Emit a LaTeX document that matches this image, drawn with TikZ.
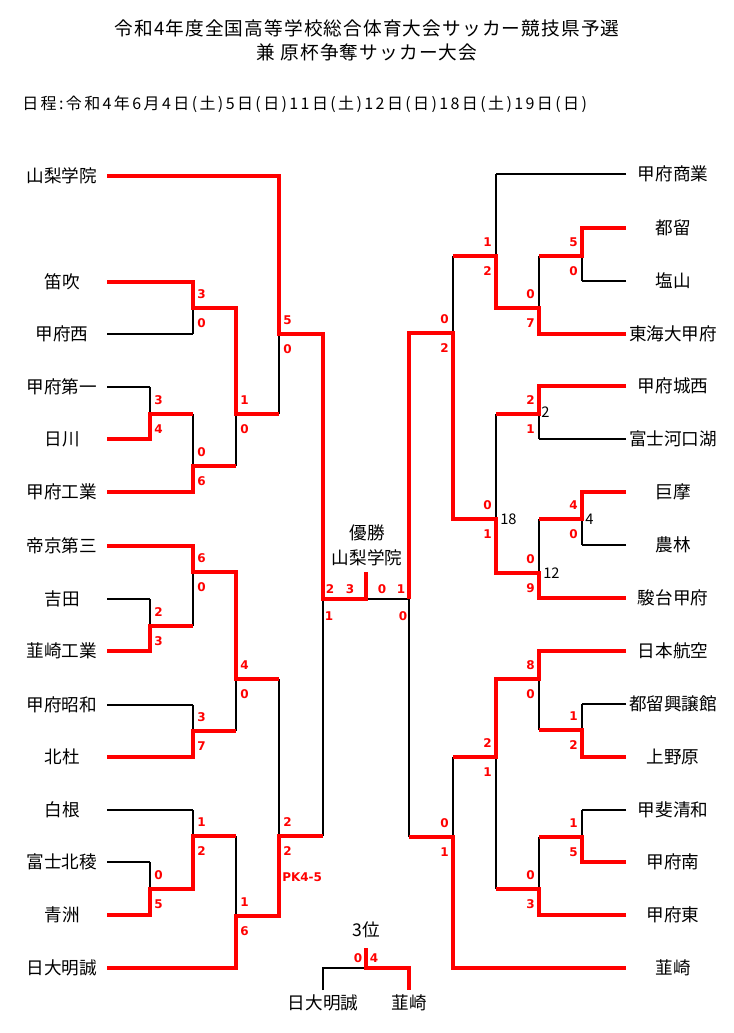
\documentclass[tikz,border=0pt]{standalone}
\usepackage{fontspec}
\newfontfamily\jp{Noto Sans CJK JP}
\newfontfamily\jpt[LetterSpace=6]{Noto Sans CJK JP}
\newfontfamily\jps[LetterSpace=15]{Noto Sans CJK JP}
\newfontfamily\scf{DejaVu Sans}
\begin{document}
\begin{tikzpicture}[x=0.75pt,y=-0.75pt,
  blk/.style={draw=black,line width=1.2pt},
  rd/.style={draw=red,line width=3pt,line join=miter},
  team/.style={font=\jp\fontsize{13.2}{15}\selectfont,inner sep=0pt},
  sc/.style={font=\scf\bfseries\fontsize{9}{10}\selectfont,text=red,inner sep=0pt},
  bn/.style={font=\jp\fontsize{11}{12}\selectfont,inner sep=0pt,anchor=west}]
\useasboundingbox (0,0) rectangle (733,1033);
\node[font=\jpt\fontsize{14}{16}\selectfont] (t1) at (367,28) {令和4年度全国高等学校総合体育大会サッカー競技県予選};
\node[font=\jpt\fontsize{14}{16}\selectfont] (t2) at (367,52) {兼\ 原杯争奪サッカー大会};
\node[font=\jps\fontsize{12}{14}\selectfont,anchor=west,inner sep=0pt] (sch) at (22,104) {日程:令和4年6月4日(土)5日(日)11日(土)12日(日)18日(土)19日(日)};
% left teams
\foreach \n/\y in {山梨学院/176,笛吹/282,甲府西/334,甲府第一/387,日川/439,甲府工業/492,帝京第三/546,吉田/599,韮崎工業/651,甲府昭和/705,北杜/757,白根/810,富士北稜/862,青洲/915,日大明誠/968}
  \node[team] (L\y) at (62,\y) {\n};
\foreach \n/\y in {甲府商業/174,都留/228,塩山/281,東海大甲府/334,甲府城西/386,富士河口湖/439,巨摩/492,農林/545,駿台甲府/598,日本航空/651,都留興譲館/704,上野原/757,甲斐清和/810,甲府南/862,甲府東/915,韮崎/968}
  \node[team] (R\y) at (673,\y) {\n};
% black structure left
\foreach \y/\x in {176/279,282/193,334/193,387/150,439/150,492/193,546/193,599/150,651/150,705/193,757/193,810/193,862/150,915/150,968/236}
  \draw[blk] (107,\y) -- (\x,\y);
\foreach \x/\a/\b/\m/\nx in {150/387/439/414/193,193/282/334/308/236,193/414/492/466/236,236/308/466/414/279,279/176/414/334/323,150/599/651/626/193,193/546/626/572/236,193/705/757/731/236,236/572/731/679/279,150/862/915/889/193,193/810/889/836/236,236/836/968/916/279,279/679/916/836/323}
  {\draw[blk] (\x,\a) -- (\x,\b); \draw[blk] (\x,\m) -- (\nx,\m);}
% black structure right
\foreach \y/\x in {174/496,228/582,281/582,334/539,386/539,439/539,492/582,545/582,598/539,651/539,704/582,757/582,810/582,862/582,915/539,968/453}
  \draw[blk] (626,\y) -- (\x,\y);
\foreach \x/\a/\b/\m/\nx in {582/228/281/256/539,539/256/334/308/496,496/174/308/256/453,539/386/439/414/496,582/492/545/519/539,539/519/598/573/496,496/414/573/519/453,453/256/519/333/409,582/704/757/730/539,539/651/730/679/496,582/810/862/837/539,539/837/915/889/496,496/679/889/757/453,453/757/968/837/409}
  {\draw[blk] (\x,\a) -- (\x,\b); \draw[blk] (\x,\m) -- (\nx,\m);}
% center
\draw[blk] (323,334) -- (323,836);
\draw[blk] (409,333) -- (409,837);
\draw[blk] (323,599) -- (409,599);
% red left
\draw[rd] (107,176) -- (279,176) -- (279,334) -- (323,334) -- (323,599) -- (366,599) -- (366,572);
\draw[rd] (107,282) -- (193,282) -- (193,308) -- (236,308) -- (236,414) -- (279,414);
\draw[rd] (107,439) -- (150,439) -- (150,414) -- (193,414);
\draw[rd] (107,492) -- (193,492) -- (193,466) -- (236,466);
\draw[rd] (107,546) -- (193,546) -- (193,572) -- (236,572) -- (236,679) -- (279,679);
\draw[rd] (107,651) -- (150,651) -- (150,626) -- (193,626);
\draw[rd] (107,757) -- (193,757) -- (193,731) -- (236,731);
\draw[rd] (107,915) -- (150,915) -- (150,889) -- (193,889) -- (193,836) -- (236,836);
\draw[rd] (107,968) -- (236,968) -- (236,916) -- (279,916) -- (279,836) -- (323,836);
% red right
\draw[rd] (626,228) -- (582,228) -- (582,256) -- (539,256);
\draw[rd] (626,334) -- (539,334) -- (539,308) -- (496,308) -- (496,256) -- (453,256);
\draw[rd] (626,386) -- (539,386) -- (539,414) -- (496,414);
\draw[rd] (626,492) -- (582,492) -- (582,519) -- (539,519);
\draw[rd] (626,598) -- (539,598) -- (539,573) -- (496,573) -- (496,519) -- (453,519) -- (453,333) -- (409,333) -- (409,599);
\draw[rd] (626,651) -- (539,651) -- (539,679) -- (496,679) -- (496,757) -- (453,757);
\draw[rd] (626,757) -- (582,757) -- (582,730) -- (539,730);
\draw[rd] (626,862) -- (582,862) -- (582,837) -- (539,837);
\draw[rd] (626,915) -- (539,915) -- (539,889) -- (496,889);
\draw[rd] (626,968) -- (453,968) -- (453,837) -- (409,837);
% scores left
\foreach \x/\m/\u/\l in {150/414/3/4,193/308/3/0,193/466/0/6,236/414/1/0,279/334/5/0,150/626/2/3,193/572/6/0,193/731/3/7,236/679/4/0,150/889/0/5,193/836/1/2,236/916/1/6,279/836/2/2}
  {\node[sc,anchor=west] at (\x+4,\m-14) {\u}; \node[sc,anchor=west] at (\x+4,\m+15) {\l};}
\node[sc,anchor=west] (pk) at (282,877) {PK4-5};
% scores right
\foreach \x/\m/\u/\l in {582/256/5/0,539/308/0/7,496/256/1/2,453/333/0/2,539/414/2/1,582/519/4/0,539/573/0/9,496/519/0/1,539/679/8/0,582/730/1/2,496/757/2/1,582/837/1/5,539/889/0/3,453/837/0/1}
  {\node[sc,anchor=east] at (\x-4,\m-14) {\u}; \node[sc,anchor=east] at (\x-4,\m+15) {\l};}
\node[bn] (n2) at (541,412) {2};
\node[bn] (n18) at (500,519) {18};
\node[bn] (n4) at (585,519) {4};
\node[bn] (n12) at (543,573) {12};
% center labels
\node[team] (yu) at (367,533) {優勝};
\node[team] (yn) at (367,558) {山梨学院};
\foreach \x/\y/\t in {330/589/2,350/589/3,382/589/0,401/589/1,329/616/1,403/616/0}
  \node[sc] at (\x,\y) {\t};
% third place
\node[team] (th) at (366,930) {3位};
\draw[blk] (323,990) -- (323,968) -- (366,968);
\draw[rd] (366,948) -- (366,968) -- (409,968) -- (409,990);
\node[sc] at (358,958) {0};
\node[sc] at (374,958) {4};
\node[team] (b1) at (323,1003) {日大明誠};
\node[team] (b2) at (409,1003) {韮崎};
\end{tikzpicture}
\end{document}
